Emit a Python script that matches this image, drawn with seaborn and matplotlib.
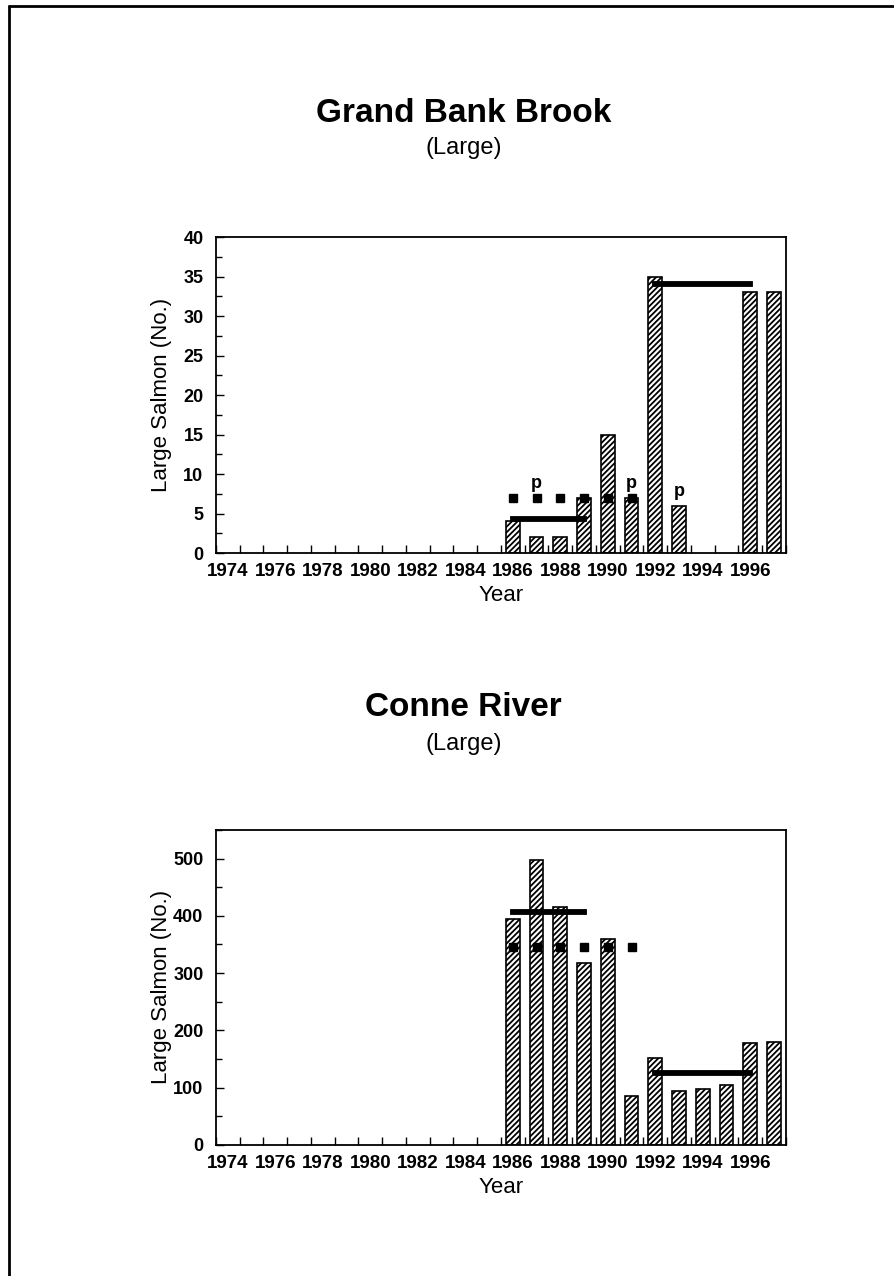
import numpy as np
import pandas as pd
import matplotlib
matplotlib.use("Agg")
import matplotlib.pyplot as plt
import seaborn as sns
from matplotlib.ticker import FixedLocator, MultipleLocator
from matplotlib.lines import Line2D

# ---- data -------------------------------------------------------------
gbb_years = [1986, 1987, 1988, 1989, 1990, 1991, 1992, 1993, 1996, 1997]
gbb_large = [4, 2, 2, 7, 15, 7, 35, 6, 33, 33]
gbb_partial_years = [1987, 1991, 1993]          # years flagged "p"
gbb_mean_spans = [(1986, 1989), (1992, 1996)]
gbb_mean_levels = [4.3, 34]
gbb_target = 7

conne_years = [1986, 1987, 1988, 1989, 1990, 1991, 1992, 1993, 1994, 1995, 1996, 1997]
conne_large = [395, 497, 416, 317, 360, 85, 152, 95, 97, 104, 178, 180]
conne_partial_years = []
conne_mean_spans = [(1986, 1989), (1992, 1996)]
conne_mean_levels = [407, 125]
conne_target = 345

target_years = [1986, 1987, 1988, 1989, 1990, 1991]
year_labels = list(range(1974, 1997, 2))

# ---- style ------------------------------------------------------------
sns.set_theme(style="white")
plt.rcParams["font.family"] = ["Liberation Sans", "DejaVu Sans"]
plt.rcParams["hatch.linewidth"] = 1.3
plt.rcParams["hatch.color"] = "black"
for key in ("text.color", "axes.labelcolor", "xtick.color", "ytick.color",
            "axes.edgecolor"):
    plt.rcParams[key] = "black"

fig = plt.figure(figsize=(8.95, 12.76), dpi=100)
fig.patch.set_facecolor("white")


def draw_panel(rect, years, counts, ylim, ymajor, yminor, spans, levels,
               target, partial_years):
    ax = fig.add_axes(rect)
    df = pd.DataFrame({"Year": years, "Count": counts})
    sns.barplot(data=df, x="Year", y="Count", native_scale=True, width=0.58,
                color="white", saturation=1, edgecolor="black", linewidth=1.2,
                hatch="//////", errorbar=None, ax=ax, zorder=2)

    # period means
    for (y0, y1), lev in zip(spans, levels):
        ax.plot([y0, y1], [lev, lev], color="black", lw=4.2,
                solid_capstyle="projecting", zorder=4)

    # target level shown as a row of square dots
    ax.plot(target_years, [target] * len(target_years), ls="none", marker="s",
            ms=5.5, color="black", zorder=5)

    # partial-count flags
    lookup = dict(zip(years, counts))
    for yr in partial_years:
        base = lookup.get(yr, 0)
        if yr in target_years:
            base = max(base, target)
        ax.annotate("p", (yr, base), xytext=(0, 4), textcoords="offset points",
                    ha="center", va="bottom", fontsize=13, fontweight="bold")

    ax.set_xlim(1973.5, 1997.5)
    ax.set_ylim(*ylim)

    ax.xaxis.set_major_locator(FixedLocator(year_labels))
    ax.set_xticklabels([str(y) for y in year_labels])
    ax.xaxis.set_minor_locator(FixedLocator(np.arange(1973.5, 1998, 1.0)))
    ax.yaxis.set_major_locator(MultipleLocator(ymajor))
    ax.yaxis.set_minor_locator(MultipleLocator(yminor))

    ax.tick_params(axis="x", which="major", length=0, pad=7,
                   labelsize=13.5)
    ax.tick_params(axis="x", which="minor", direction="in", length=6,
                   width=1, bottom=True, top=False)
    ax.tick_params(axis="y", which="major", direction="in", length=6,
                   width=1, left=True, right=False, pad=9, labelsize=13)
    ax.tick_params(axis="y", which="minor", direction="in", length=4,
                   width=1, left=True, right=False)
    for lab in ax.get_xticklabels() + ax.get_yticklabels():
        lab.set_fontweight("bold")

    for s in ax.spines.values():
        s.set_visible(True)
        s.set_color("black")
        s.set_linewidth(1.3)

    ax.set_xlabel("Year", fontsize=16, labelpad=4)
    ax.set_ylabel("Large Salmon (No.)", fontsize=16)
    ax.yaxis.set_label_coords(-0.078, 0.5)
    ax.grid(False)
    return ax


draw_panel([0.2413, 0.5666, 0.6369, 0.2476], gbb_years, gbb_large,
           (0, 40), 5, 2.5, gbb_mean_spans, gbb_mean_levels, gbb_target,
           gbb_partial_years)
draw_panel([0.2413, 0.1027, 0.6369, 0.2469], conne_years, conne_large,
           (0, 550), 100, 50, conne_mean_spans, conne_mean_levels,
           conne_target, conne_partial_years)

# panel headings
fig.text(0.518, 0.9114, "Grand Bank Brook", ha="center", va="center",
         fontsize=24, fontweight="bold")
fig.text(0.518, 0.884, "(Large)", ha="center", va="center", fontsize=17)
fig.text(0.518, 0.4459, "Conne River", ha="center", va="center",
         fontsize=24, fontweight="bold")
fig.text(0.518, 0.4169, "(Large)", ha="center", va="center", fontsize=17)

# page frame (left and top edges)
fig.add_artist(Line2D([0.0101, 0.0101], [0.0, 0.9953], transform=fig.transFigure,
                      color="black", lw=2))
fig.add_artist(Line2D([0.0101, 1.0], [0.9953, 0.9953], transform=fig.transFigure,
                      color="black", lw=2))

fig.savefig("out.png", dpi=100, facecolor="white")
